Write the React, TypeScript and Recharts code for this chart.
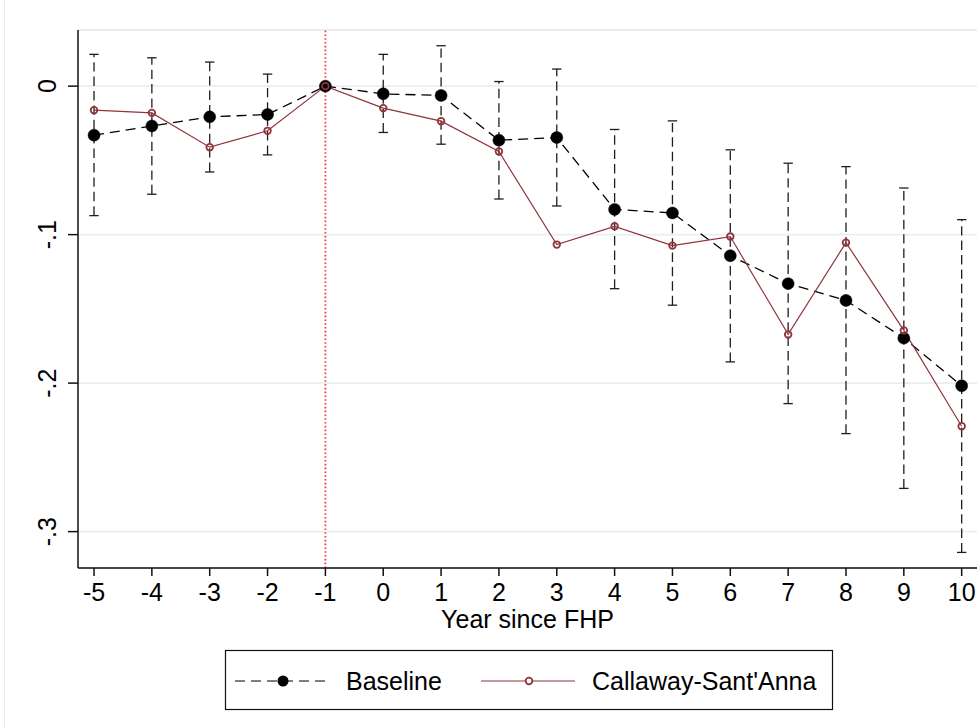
import React from 'react';
import {
  LineChart,
  Line,
  XAxis,
  YAxis,
  CartesianGrid,
  ReferenceLine,
  ErrorBar,
} from 'recharts';

const FONT = '"Liberation Sans", Arial, sans-serif';
const RED = '#90353b';

// event time (years since FHP)
const years = [-5, -4, -3, -2, -1, 0, 1, 2, 3, 4, 5, 6, 7, 8, 9, 10];

// baseline estimates and 95% CI bounds
const baseline = [
  -0.033, -0.0268, -0.0207, -0.0191, 0, -0.0052, -0.0063, -0.0364, -0.0346, -0.083, -0.0854,
  -0.1142, -0.133, -0.1443, -0.1697, -0.2018,
];
const baselineLo = [
  -0.0872, -0.0728, -0.0578, -0.0463, null, -0.0312, -0.0391, -0.076, -0.0807, -0.1364, -0.1475,
  -0.1857, -0.2138, -0.234, -0.2709, -0.314,
];
const baselineHi = [
  0.0214, 0.0191, 0.0162, 0.0081, null, 0.0214, 0.0272, 0.0031, 0.0115, -0.0292, -0.0234,
  -0.0429, -0.0519, -0.0542, -0.0686, -0.0899,
];

// Callaway-Sant'Anna estimates
const callaway = [
  -0.0162, -0.018, -0.0411, -0.0301, 0, -0.0148, -0.0236, -0.044, -0.1067, -0.0944, -0.1074,
  -0.1013, -0.1672, -0.1054, -0.1645, -0.229,
];

const xTicks = [-5, -4, -3, -2, -1, 0, 1, 2, 3, 4, 5, 6, 7, 8, 9, 10];
const yTicks = [0, -0.1, -0.2, -0.3];

const data = years.map((year, i) => {
  const lo = baselineLo[i];
  const hi = baselineHi[i];
  return {
    year,
    baseline: baseline[i],
    callaway: callaway[i],
    err: lo == null || hi == null ? null : [baseline[i] - lo, hi - baseline[i]],
  };
});

const fmtY = (v: number) => (v === 0 ? '0' : v.toFixed(1).replace('0.', '.'));

function YTick(props: any) {
  const { x, y, payload } = props;
  return (
    <text
      x={x}
      y={y}
      transform={`rotate(-90, ${x}, ${y})`}
      textAnchor="middle"
      fill="#000"
      fontSize={25}
      fontFamily={FONT}
    >
      {fmtY(payload.value)}
    </text>
  );
}

function LegendBox() {
  return (
    <svg
      width={608}
      height={60}
      style={{ position: 'absolute', left: 225, top: 650, overflow: 'visible' }}
    >
      <rect x={0.5} y={0.5} width={607} height={59} fill="#fff" stroke="#111" strokeWidth={1.2} />
      <line x1={10} y1={31} x2={105} y2={31} stroke="#000" strokeWidth={1.2} strokeDasharray="10 6" />
      <circle cx={58} cy={31} r={5.5} fill="#000" />
      <text x={121} y={40} fontSize={25} fontFamily={FONT} fill="#000">
        Baseline
      </text>
      <line x1={256} y1={31} x2={350} y2={31} stroke={RED} strokeWidth={1.2} />
      <circle cx={304} cy={31} r={3.3} fill="#fff" stroke={RED} strokeWidth={1.8} />
      <text x={367} y={40} fontSize={25} fontFamily={FONT} fill="#000">
        Callaway-Sant'Anna
      </text>
    </svg>
  );
}

export default function App() {
  return (
    <div
      style={{
        position: 'absolute',
        left: 0,
        top: 0,
        width: 977,
        height: 728,
        background: '#fff',
        overflow: 'hidden',
      }}
    >
      <div
        style={{
          position: 'absolute',
          left: 4,
          top: 0,
          width: 0,
          height: 728,
          borderLeft: '1px solid #e6edf1',
        }}
      />
      <LineChart
        width={977}
        height={728}
        data={data}
        margin={{ top: 30, right: 0, bottom: 0, left: 0 }}
        style={{ fontFamily: FONT }}
      >
        <CartesianGrid vertical={false} stroke="#e8eef1" strokeWidth={1.8} />
        <XAxis
          dataKey="year"
          type="number"
          domain={[-5.277, 10.265]}
          ticks={xTicks}
          allowDataOverflow
          height={160}
          axisLine={{ stroke: '#111', strokeWidth: 1.5 }}
          tickLine={{ stroke: '#111', strokeWidth: 1.5 }}
          tickSize={8}
          tickMargin={7}
          tick={{ fill: '#000', fontSize: 25, fontFamily: FONT }}
          interval={0}
          label={{
            value: 'Year since FHP',
            position: 'insideTop',
            offset: 42,
            fill: '#000',
            fontSize: 25,
            fontFamily: FONT,
          }}
        />
        <YAxis
          type="number"
          domain={[-0.3245, 0.0378]}
          ticks={yTicks}
          allowDataOverflow
          width={78}
          axisLine={{ stroke: '#111', strokeWidth: 1.5 }}
          tickLine={{ stroke: '#111', strokeWidth: 1.5 }}
          tickSize={10}
          tickMargin={12}
          tick={(p: any) => <YTick {...p} />}
          interval={0}
        />
        <ReferenceLine
          x={-1}
          stroke="#ff3030"
          strokeOpacity={1}
          strokeWidth={1.7}
          strokeDasharray="1.6 2.2"
        />
        <Line
          dataKey="baseline"
          stroke="#000"
          strokeWidth={1.3}
          strokeDasharray="10 6"
          dot={{ r: 6, fill: '#000', stroke: '#000', strokeWidth: 0.5, strokeDasharray: '' }}
          activeDot={false}
          isAnimationActive={false}
        >
          <ErrorBar
            dataKey="err"
            direction="y"
            width={4.7}
            stroke="#1e1e1e"
            strokeWidth={1.3}
            strokeDasharray="9.4 5"
            isAnimationActive={false}
          />
        </Line>
        <Line
          dataKey="callaway"
          stroke={RED}
          strokeWidth={1.2}
          dot={{ r: 3.3, fill: 'none', stroke: RED, strokeWidth: 1.8 }}
          activeDot={false}
          isAnimationActive={false}
        />
      </LineChart>
      <LegendBox />
    </div>
  );
}
